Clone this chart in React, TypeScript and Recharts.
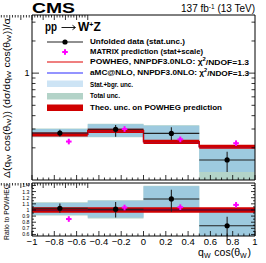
import React from 'react';
import { ComposedChart, Line, Area, Scatter, ErrorBar, XAxis, YAxis } from 'recharts';

const FONT = '"Liberation Sans", Arial, Helvetica, sans-serif';

const binEdges = [-1, -0.5, 0, 0.5, 1];
const binCenters = [-0.75, -0.25, 0.25, 0.75];
const binHalfWidth = [0.25, 0.25, 0.25, 0.25];
const matrixX = [-0.67, -0.17, 0.33, 0.83];

// upper panel: normalised cross section
const dataXsec = [0.275, 0.298, 0.273, 0.154];
const dataXsecLo = [0.256, 0.254, 0.237, 0.119];
const dataXsecHi = [0.296, 0.327, 0.311, 0.184];
const matrixXsec = [0.229, 0.3, 0.24, 0.221];
const powhegXsec = [0.267, 0.289, 0.228, 0.205];
const amcXsec = [0.267, 0.289, 0.228, 0.205];
const statLo = [0.254, 0.254, 0.227, 0.119];
const statHi = [0.3, 0.332, 0.322, 0.199];
const totalLo = [0.251, 0.251, 0.224, 0.08];
const totalHi = [0.303, 0.336, 0.326, 0.202];
const theoRelUnc = [0.045, 0.045, 0.045, 0.045];

// lower panel: ratio to POWHEG
const dataRatio = [1.028, 1.012, 1.18, 0.742];
const dataRatioLo = [0.956, 0.875, 0.97, 0.5];
const dataRatioHi = [1.104, 1.13, 1.33, 0.89];
const matrixRatio = [0.852, 1.04, 1.045, 1.083];
const powhegRatio = [1, 1, 1, 1];
const amcRatio = [0.995, 1.0, 1.003, 1.0];
const statRatioLo = [0.92, 0.875, 1.0, 0.5];
const statRatioHi = [1.115, 1.15, 1.385, 0.985];
const totalRatioLo = [0.91, 0.862, 0.99, 0.5];
const totalRatioHi = [1.125, 1.16, 1.395, 0.995];

// axes
const xTicks = Array.from({ length: 41 }, (_, i) => Math.round((-1 + i * 0.05) * 100) / 100);
const xLabelValues = [-1, -0.8, -0.6, -0.4, -0.2, 0, 0.2, 0.4, 0.6, 0.8, 1];
const upperYTicks = [0.2, 0.3, 0.4, 0.5, 0.6, 0.7, 0.8, 0.9, 1, 2, 3];
const upperYLabels = [1];
const ratioYTicks = Array.from({ length: 17 }, (_, i) => Math.round((0.6 + i * 0.05) * 100) / 100);
const ratioYLabels = [0.6, 0.7, 0.8, 0.9, 1, 1.1, 1.2, 1.3, 1.4];

const upperDomain: [number, number] = [0.1, 3.5];
const ratioDomain: [number, number] = [0.575, 1.44];

const C = {
  stat: '#9dcadf',
  total: '#b3d4c9',
  theo: '#d00000',
  powheg: '#e00000',
  powhegRatio: '#800000',
  amc: '#2a2aff',
  matrix: '#ff00ff',
  legendStat: '#cde4f5',
  legendTotal: '#b3d3c8',
};

const near = (a: number, list: number[]) => list.some((b) => Math.abs(a - b) < 1e-6);
const fmt = (v: number) => (v < 0 ? '\u2212' + String(-v) : String(v));

function stepRows(series: Record<string, (b: number) => number | number[]>) {
  return binEdges.map((x, i) => {
    const b = Math.min(i, binCenters.length - 1);
    const row: Record<string, any> = { x };
    for (const k in series) row[k] = series[k](b);
    return row;
  });
}

const upperRows = stepRows({
  total: (b) => [totalLo[b], totalHi[b]],
  stat: (b) => [statLo[b], statHi[b]],
  theo: (b) => [powhegXsec[b] * (1 - theoRelUnc[b]), powhegXsec[b] * (1 + theoRelUnc[b])],
  powheg: (b) => powhegXsec[b],
  amc: (b) => amcXsec[b],
});

const ratioRows = stepRows({
  total: (b) => [totalRatioLo[b], totalRatioHi[b]],
  stat: (b) => [statRatioLo[b], statRatioHi[b]],
  theo: (b) => [powhegRatio[b] * (1 - theoRelUnc[b]), powhegRatio[b] * (1 + theoRelUnc[b])],
  powheg: (b) => powhegRatio[b],
  amc: (b) => amcRatio[b],
});

const upperData = binCenters.map((x, i) => ({
  x,
  y: dataXsec[i],
  ex: [binHalfWidth[i], binHalfWidth[i]],
  ey: [dataXsec[i] - dataXsecLo[i], dataXsecHi[i] - dataXsec[i]],
}));
const upperMatrix = matrixX.map((x, i) => ({ x, y: matrixXsec[i] }));

const ratioData = binCenters.map((x, i) => ({
  x,
  y: dataRatio[i],
  ex: [binHalfWidth[i], binHalfWidth[i]],
  ey: [dataRatio[i] - dataRatioLo[i], dataRatioHi[i] - dataRatio[i]],
}));
const ratioMatrix = matrixX.map((x, i) => ({ x, y: matrixRatio[i] }));

const Dot = (p: any) => <circle cx={p.cx} cy={p.cy} r={2.6} fill="#000" />;
const Plus = (p: any) => (
  <g fill={C.matrix}>
    <rect x={p.cx - 2.8} y={p.cy - 1} width={5.6} height={2} />
    <rect x={p.cx - 1} y={p.cy - 2.8} width={2} height={5.6} />
  </g>
);

const xTickLen = (v: number) => (near(v, xLabelValues) ? 5 : 2.5);

const makeXTick = (side: 'top' | 'bottom', labels: boolean) => (p: any) => {
  const v = p.payload.value;
  const len = xTickLen(v);
  const dir = side === 'bottom' ? -1 : 1;
  return (
    <g>
      <line x1={p.x} x2={p.x} y1={p.y} y2={p.y + dir * len} stroke="#000" strokeWidth={0.8} />
      {labels && near(v, xLabelValues) && (
        <text x={p.x} y={p.y + 9} textAnchor="middle" fontSize={9.5} fontFamily={FONT} fill="#000">
          {fmt(v)}
        </text>
      )}
    </g>
  );
};

const makeYTick = (side: 'left' | 'right', major: number[], labelSize: number, majorLen: number) => (p: any) => {
  const v = p.payload.value;
  const isMajor = near(v, major);
  const len = isMajor ? majorLen : majorLen / 2;
  const dir = side === 'left' ? 1 : -1;
  return (
    <g>
      <line x1={p.x} x2={p.x + dir * len} y1={p.y} y2={p.y} stroke="#000" strokeWidth={0.8} />
      {side === 'left' && isMajor && (
        <text x={p.x - 2.5} y={p.y} textAnchor="end" dominantBaseline="central" fontSize={labelSize} fontFamily={FONT} fill="#000">
          {String(v)}
        </text>
      )}
    </g>
  );
};

function Panel({
  rows, data, matrix, domain, scale, yTicks, yMajor, labelSize, majorLen, height, bottomH, xLabels, powhegColor,
}: any) {
  return (
    <ComposedChart width={266} height={height} data={rows} margin={{ top: height > 100 ? 14 : 0, right: 0, bottom: 0, left: 0 }}>
      <XAxis dataKey="x" type="number" domain={[-1, 1]} ticks={xTicks} interval={0} allowDataOverflow
        height={bottomH} tickSize={0} tickMargin={0} tickLine={false} axisLine={{ stroke: '#000' }}
        tick={makeXTick('bottom', xLabels)} />
      <XAxis xAxisId="top" orientation="top" type="number" domain={[-1, 1]} ticks={xTicks} interval={0} allowDataOverflow
        height={1} tickSize={0} tickMargin={0} tickLine={false} axisLine={{ stroke: '#000' }}
        tick={makeXTick('top', false)} />
      <YAxis dataKey="y" type="number" scale={scale} domain={domain} ticks={yTicks} interval={0} allowDataOverflow
        width={32} tickSize={0} tickMargin={0} tickLine={false} axisLine={{ stroke: '#000' }}
        tick={makeYTick('left', yMajor, labelSize, majorLen)} />
      <YAxis yAxisId="right" orientation="right" type="number" scale={scale} domain={domain} ticks={yTicks} interval={0} allowDataOverflow
        width={11} tickSize={0} tickMargin={0} tickLine={false} axisLine={{ stroke: '#000' }}
        tick={makeYTick('right', yMajor, labelSize, majorLen)} />
      <Area dataKey="total" type="stepAfter" fill={C.total} fillOpacity={1} stroke="none" isAnimationActive={false} />
      <Area dataKey="stat" type="stepAfter" fill={C.stat} fillOpacity={1} stroke="none" isAnimationActive={false} />
      <Area dataKey="theo" type="stepAfter" fill={C.theo} fillOpacity={1} stroke="none" isAnimationActive={false} />
      <Line dataKey="amc" type="stepAfter" stroke={C.amc} strokeWidth={1.2} dot={false} isAnimationActive={false} />
      <Line dataKey="powheg" type="stepAfter" stroke={powhegColor} strokeWidth={1.4} dot={false} isAnimationActive={false} />
      <Scatter data={data} shape={Dot} isAnimationActive={false}>
        <ErrorBar dataKey="ex" direction="x" width={0} stroke="#222" strokeWidth={1.1} isAnimationActive={false} />
        <ErrorBar dataKey="ey" direction="y" width={0} stroke="#222" strokeWidth={1.1} isAnimationActive={false} />
      </Scatter>
      <Scatter data={matrix} shape={Plus} isAnimationActive={false} />
    </ComposedChart>
  );
}

const Sub = ({ children, size }: any) => (
  <>
    <tspan dy={2.2} fontSize={size}>{children}</tspan>
    <tspan dy={-2.2}>{'\u200a'}</tspan>
  </>
);

export default function App() {
  const legendText = { fontSize: 6.6, fontWeight: 700, fontFamily: FONT, fill: '#000', dominantBaseline: 'central' as const, lengthAdjust: 'spacingAndGlyphs' as const };
  return (
    <div style={{ position: 'absolute', left: 0, top: 0, width: 266, height: 263, background: '#fff' }}>
      <div style={{ position: 'absolute', left: 0, top: 0 }}>
        <Panel rows={upperRows} data={upperData} matrix={upperMatrix} domain={upperDomain} scale="log"
          yTicks={upperYTicks} yMajor={upperYLabels} labelSize={9} majorLen={7} height={181} bottomH={1}
          xLabels={false} powhegColor={C.theo} />
      </div>
      <div style={{ position: 'absolute', left: 0, top: 182 }}>
        <Panel rows={ratioRows} data={ratioData} matrix={ratioMatrix} domain={ratioDomain} scale="linear"
          yTicks={ratioYTicks} yMajor={ratioYLabels} labelSize={5.2} majorLen={4} height={81} bottomH={27}
          xLabels={true} powhegColor={C.powhegRatio} />
      </div>
      <svg width={266} height={263} style={{ position: 'absolute', left: 0, top: 0, pointerEvents: 'none' }}>
        <text x={32} y={13} fontSize={15} fontWeight={700} fontFamily={FONT} textLength={43} lengthAdjust="spacingAndGlyphs">CMS</text>
        <text x={255} y={12} fontSize={10} fontFamily={FONT} textAnchor="end">
          137 fb<tspan dy={-3.5} fontSize={6.5}>-1</tspan><tspan dy={3.5}> (13 TeV)</tspan>
        </text>

        <text x={45} y={31} fontSize={12} fontWeight={700} fontFamily={FONT} textLength={12} lengthAdjust="spacingAndGlyphs">pp</text>
        <path d="M61.5 27.5 H75 M72.5 25.3 L75.5 27.5 L72.5 29.7" stroke="#000" strokeWidth={0.9} fill="none" />
        <text x={78} y={31} fontSize={12} fontWeight={700} fontFamily={FONT}>
          W<tspan dy={-4.5} fontSize={7}>+</tspan><tspan dy={4.5}>Z</tspan>
        </text>

        <line x1={47} x2={83} y1={42} y2={42} stroke="#222" strokeWidth={1.1} />
        <circle cx={65} cy={42} r={2.6} fill="#000" />
        <text x={90} y={41} {...legendText} textLength={95}>Unfolded data (stat.unc.)</text>

        <Plus cx={65} cy={52} />
        <text x={90} y={51} {...legendText} textLength={113}>MATRIX prediction (stat+scale)</text>

        <line x1={47} x2={83} y1={62} y2={62} stroke={C.powheg} strokeWidth={1.1} />
        <text x={90} y={61.5} {...legendText} textLength={159}>
          POWHEG, NNPDF3.0NLO: {'\u03c7'}<tspan dy={-2.5} fontSize={4.5}>2</tspan><tspan dy={2.5}>/NDOF=1.3</tspan>
        </text>

        <line x1={47} x2={83} y1={73} y2={73} stroke={C.amc} strokeWidth={1.1} />
        <text x={90} y={72.5} {...legendText} textLength={159}>
          aMC@NLO, NNPDF3.0NLO: {'\u03c7'}<tspan dy={-2.5} fontSize={4.5}>2</tspan><tspan dy={2.5}>/NDOF=1.3</tspan>
        </text>

        <rect x={47} y={80.5} width={36} height={6.5} fill={C.legendStat} />
        <text x={90} y={84} {...legendText} textLength={43}>Stat.+bgr. unc.</text>

        <rect x={47} y={93} width={36} height={6.5} fill={C.legendTotal} />
        <text x={90} y={95.5} {...legendText} textLength={30}>Total unc.</text>

        <rect x={47} y={104.5} width={36} height={6.5} fill={C.theo} />
        <text x={90} y={107} {...legendText} textLength={132}>Theo. unc. on POWHEG prediction</text>

        <text transform="translate(7,98) rotate(-90)" textAnchor="middle" dominantBaseline="central" fontSize={8.5}
          fontFamily={FONT} textLength={160} lengthAdjust="spacingAndGlyphs">
          {'\u0394(q'}<Sub size={6}>W</Sub>{' cos(\u03b8'}<Sub size={6}>W</Sub>{')) (d\u03c3/dq'}<Sub size={6}>W</Sub>{' cos(\u03b8'}<Sub size={6}>W</Sub>{'))/\u03c3'}
        </text>
        <text transform="translate(6,212) rotate(-90)" textAnchor="middle" dominantBaseline="central" fontSize={7}
          fontFamily={FONT} textLength={56} lengthAdjust="spacingAndGlyphs">Ratio to POWHEG</text>

        <text x={251} y={256} textAnchor="end" fontSize={10.5} fontFamily={FONT}>
          q<Sub size={7}>W</Sub>{' cos(\u03b8'}<Sub size={7}>W</Sub>)
        </text>
      </svg>
    </div>
  );
}
